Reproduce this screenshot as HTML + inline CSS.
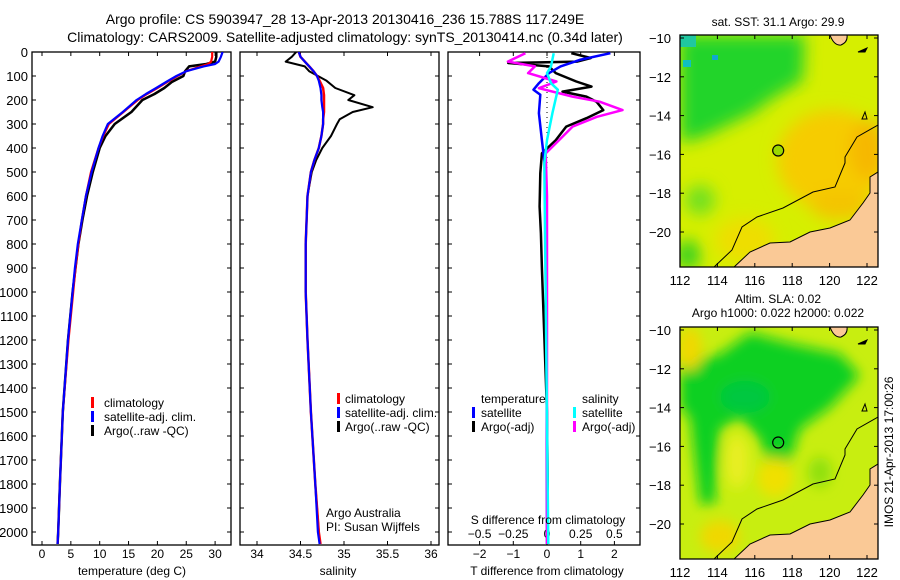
<!DOCTYPE html>
<html><head><meta charset="utf-8"><style>
html,body{margin:0;padding:0;background:#fff;}
svg{display:block;font-family:"Liberation Sans",sans-serif;}
text{fill:#000;}
</style></head><body>
<svg id="fig" width="900" height="580" viewBox="0 0 900 580">
<defs>
 <filter id="blur" x="-20%" y="-20%" width="140%" height="140%"><feGaussianBlur stdDeviation="8"/></filter>
 <filter id="blur2" x="-20%" y="-20%" width="140%" height="140%"><feGaussianBlur stdDeviation="6"/></filter>
 <clipPath id="mapclip"><rect x="680" y="35" width="198" height="232"/></clipPath>
 <clipPath id="p1clip"><rect x="32" y="52" width="199" height="493"/></clipPath>
 <clipPath id="p2clip"><rect x="240" y="52" width="199" height="493"/></clipPath>
 <clipPath id="p3clip"><rect x="448" y="52" width="192" height="493"/></clipPath>
</defs>
<text x="345" y="24" font-size="14" text-anchor="middle">Argo profile: CS 5903947_28 13-Apr-2013 20130416_236 15.788S 117.249E</text>
<text x="345" y="42" font-size="14" text-anchor="middle">Climatology: CARS2009. Satellite-adjusted climatology: synTS_20130414.nc (0.34d later)</text>

<g id="g1"></g>
<g id="g2"></g>
<g id="g3"></g>

<g font-size="12">
 <rect x="91" y="397" width="3" height="11" fill="#f00"/><text x="104" y="407">climatology</text>
 <rect x="91" y="411" width="3" height="11" fill="#00f"/><text x="104" y="421">satellite-adj. clim.</text>
 <rect x="91" y="425" width="3" height="11" fill="#000"/><text x="104" y="435">Argo(..raw -QC)</text>
</g>
<g font-size="12">
 <rect x="337" y="393" width="3" height="11" fill="#f00"/><text x="345" y="403">climatology</text>
 <rect x="337" y="407" width="3" height="11" fill="#00f"/><text x="345" y="417">satellite-adj. clim.</text>
 <rect x="337" y="421" width="3" height="11" fill="#000"/><text x="345" y="431">Argo(..raw -QC)</text>
 <text x="326" y="517">Argo Australia</text>
 <text x="326" y="531">PI: Susan Wijffels</text>
</g>
<g font-size="12">
 <text x="481" y="403">temperature</text>
 <rect x="472" y="407" width="3" height="11" fill="#00f"/><text x="481" y="417">satellite</text>
 <rect x="472" y="421" width="3" height="11" fill="#000"/><text x="481" y="431">Argo(-adj)</text>
 <text x="582" y="403">salinity</text>
 <rect x="573" y="407" width="3" height="11" fill="#0ff"/><text x="582" y="417">satellite</text>
 <rect x="573" y="421" width="3" height="11" fill="#f0f"/><text x="582" y="431">Argo(-adj)</text>
 <text x="548" y="524" text-anchor="middle">S difference from climatology</text>
</g>

<text x="132" y="575" font-size="12" text-anchor="middle">temperature (deg C)</text>
<text x="338" y="575" font-size="12" text-anchor="middle">salinity</text>
<text x="547" y="575" font-size="12" text-anchor="middle">T difference from climatology</text>

<g id="map1">
 <text x="778" y="26" font-size="12" text-anchor="middle">sat. SST: 31.1 Argo: 29.9</text>
 <g id="bg1" clip-path="url(#mapclip)">
  <rect x="680" y="35" width="198" height="232" fill="#d6ef00"/>
  <g filter="url(#blur)">
   <ellipse cx="832" cy="160" rx="55" ry="50" fill="#f6cc00"/>
   <ellipse cx="868" cy="150" rx="18" ry="30" fill="#f6b800"/>
   <ellipse cx="840" cy="205" rx="30" ry="15" fill="#f4c400"/>
   <ellipse cx="745" cy="240" rx="30" ry="22" fill="#eede00"/>
   <polygon points="680,35 805,35 803,80 770,100 753,113 703,137 680,143" fill="#22d42a"/>
   <ellipse cx="700" cy="200" rx="15" ry="15" fill="#70e020"/>
   <ellipse cx="688" cy="255" rx="12" ry="15" fill="#30d020"/>
  </g>
  <rect x="680" y="35" width="16" height="12" fill="#20c8a0"/>
  <rect x="683" y="60" width="8" height="7" fill="#10c0c0"/>
  <rect x="712" y="55" width="6" height="5" fill="#10a8d0"/>
 </g>
</g>
<g id="map2">
 <text x="778" y="303" font-size="12" text-anchor="middle">Altim. SLA: 0.02</text>
 <text x="778" y="317" font-size="12" text-anchor="middle">Argo h1000: 0.022 h2000: 0.022</text>
</g>
<text transform="translate(893,452) rotate(-90)" font-size="12" text-anchor="middle">IMOS 21-Apr-2013 17:00:26</text>
</svg>
<script>
// ---------- profile data ----------
const tDepth = [0,20,40,50,60,80,100,125,150,175,200,250,300,350,400,500,600,700,800,900,1000,1200,1500,1800,2000,2050];
const climT = [29.5,29.5,29.3,28.8,27.5,25.0,23.5,21.7,20.0,18.2,16.6,14.1,11.6,10.6,9.8,8.5,7.6,6.9,6.3,5.8,5.4,4.6,3.6,3.1,2.8,2.7];
const satT = [31.3,31.0,30.6,30.0,28.0,25.0,23.3,21.5,19.8,18.0,16.4,14.0,11.4,10.5,9.8,8.6,7.6,6.9,6.2,5.7,5.3,4.5,3.6,3.1,2.8,2.7];
const argoT = [30.2,30.2,30.0,28.5,25.5,24.8,24.5,22.5,21.2,19.5,17.4,15.5,12.6,11.0,10.0,8.8,7.8,7.0,6.3,5.8,5.3,4.5,3.6,3.1,2.8,2.7];

const sDepth = [0,20,40,60,80,100,120,150,180,200,230,250,280,300,350,400,450,500,600,800,1000,1200,1500,1800,2000,2050];
const climS = [34.48,34.5,34.55,34.6,34.65,34.69,34.72,34.76,34.77,34.77,34.77,34.77,34.76,34.76,34.74,34.71,34.66,34.62,34.58,34.56,34.56,34.58,34.62,34.67,34.71,34.73];
const satS = [34.48,34.5,34.55,34.6,34.65,34.69,34.71,34.73,34.74,34.74,34.75,34.76,34.76,34.76,34.74,34.71,34.66,34.62,34.58,34.56,34.56,34.58,34.62,34.67,34.70,34.72];
const argoS = [34.45,34.4,34.33,34.55,34.6,34.7,34.8,34.9,35.12,35.05,35.33,35.1,34.95,34.92,34.85,34.75,34.68,34.63,34.58,34.56,34.56,34.58,34.62,34.67,34.71,34.72];

const argoTdiffDepth = [5,25,40,46,60,88,123,144,165,186,207,242,276,311,367,422,505,644,755,900,1100,1300,1500,1800,2050];
const argoTdiff = [0.72,1.3,0.9,-1.15,0.06,0.26,0.87,1.32,0.46,1.17,1.47,1.67,1.17,0.57,0.26,-0.15,-0.2,-0.22,-0.18,-0.15,-0.1,-0.05,0,0.02,0.02];
const satTdiffDepth = [5,33,60,88,130,157,178,255,367,464,600,2050];
const satTdiff = [1.88,0.97,0.4,0.06,-0.24,-0.4,-0.2,-0.24,-0.15,-0.07,-0.02,0];
const argoSdiffDepth = [5,40,60,88,123,151,186,207,242,270,311,367,422,600,1000,2050];
const argoSdiff = [-0.16,-0.29,-0.09,-0.14,0.07,-0.06,0.19,0.39,0.56,0.37,0.19,0.09,-0.01,0,0,0];
const satSdiffDepth = [5,60,88,130,157,255,367,464,2050];
const satSdiff = [0.05,0.03,0,0.03,0.08,0.04,0,-0.02,0.01];

const depthTicks = [0,100,200,300,400,500,600,700,800,900,1000,1100,1200,1300,1400,1500,1600,1700,1800,1900,2000];
const tTicks = [0,5,10,15,20,25,30];
const sTicks = [34,34.5,35,35.5,36];
const dTTicks = [-2,-1,0,1,2];
const dSTicks = [-0.5,-0.25,0,0.25,0.5];
const latTicks = [-10,-12,-14,-16,-18,-20];
const lonTicks = [112,114,116,118,120,122];
const argoLon = 117.25, argoLat = -15.8;

const NS = 'http://www.w3.org/2000/svg';
const yD = d => 52 + d * 0.24;
const xT = t => 42 + t * 5.77;
const xS = s => 257 + (s - 34) * 87;
const xDT = v => 547 + v * 33.7;
const xDS = v => 547 + v * 134.8;
const mx = lon => 680 + (lon - 112) * 18.7;
const my = lat => 38 + (-10 - lat) * 19.4;

function mk(tag, attrs, parent) {
  const e = document.createElementNS(NS, tag);
  for (const k in attrs) e.setAttribute(k, attrs[k]);
  parent.appendChild(e);
  return e;
}
function txt(parent, x, y, s, anchor, size) {
  const t = mk('text', {x: x, y: y, 'font-size': size || 12, 'text-anchor': anchor || 'middle'}, parent);
  t.textContent = s;
  return t;
}
function frame(g, x0, x1, name) {
  const r = mk('rect', {x: x0, y: 52, width: x1 - x0, height: 493, fill: 'none', stroke: '#000', 'stroke-width': 1.3}, g);
  
  
  depthTicks.forEach(d => {
    mk('line', {x1: x0, x2: x0 + 4, y1: yD(d), y2: yD(d), stroke: '#000'}, g);
    mk('line', {x1: x1, x2: x1 - 4, y1: yD(d), y2: yD(d), stroke: '#000'}, g);
  });
}
function xticks(g, ticks, fx, labelY) {
  ticks.forEach(v => {
    mk('line', {x1: fx(v), x2: fx(v), y1: 52, y2: 56, stroke: '#000'}, g);
    mk('line', {x1: fx(v), x2: fx(v), y1: 545, y2: 541, stroke: '#000'}, g);
    const t = txt(g, fx(v), labelY, String(v));
    
    
  });
}
function series(g, xs, ds, fx, color, name, clip, w) {
  const pts = xs.map((v, i) => fx(v).toFixed(1) + ',' + yD(ds[i]).toFixed(1)).join(' ');
  const p = mk('polyline', {points: pts, fill: 'none', stroke: color, 'stroke-width': w || 2.5, 'clip-path': 'url(#' + clip + ')', 'stroke-linejoin': 'round'}, g);
  
  
}

const g1 = document.getElementById('g1');
frame(g1, 32, 231, 'temperature-panel');
xticks(g1, tTicks, xT, 558);
depthTicks.forEach(d => {
  const t = txt(g1, 28, yD(d) + 5, String(d), 'end', 13);
  
  
});
series(g1, argoT, tDepth, xT, '#000', 'argo-temperature-line', 'p1clip', 2.5);
series(g1, climT, tDepth, xT, '#f00', 'climatology-temperature-line', 'p1clip', 2.2);
series(g1, satT, tDepth, xT, '#00f', 'satellite-temperature-line', 'p1clip', 2.2);

const g2 = document.getElementById('g2');
frame(g2, 240, 439, 'salinity-panel');
xticks(g2, sTicks, xS, 558);
series(g2, argoS, sDepth, xS, '#000', 'argo-salinity-line', 'p2clip', 2);
series(g2, climS, sDepth, xS, '#f00', 'climatology-salinity-line', 'p2clip', 2.5);
series(g2, satS, sDepth, xS, '#00f', 'satellite-salinity-line', 'p2clip', 2.2);

const g3 = document.getElementById('g3');
frame(g3, 448, 640, 'difference-panel');
dTTicks.forEach(v => {
  mk('line', {x1: xDT(v), x2: xDT(v), y1: 545, y2: 541, stroke: '#000'}, g3);
  const t = txt(g3, xDT(v), 558, v < 0 ? '\u2212' + Math.abs(v) : String(v));
  
  
});
dSTicks.forEach(v => {
  mk('line', {x1: xDS(v), x2: xDS(v), y1: 52, y2: 56, stroke: '#000'}, g3);
  const t = txt(g3, xDS(v), 538, v < 0 ? '\u2212' + Math.abs(v) : String(v));
  
  
});
const zl = mk('line', {x1: xDT(0), x2: xDT(0), y1: 52, y2: 545, stroke: '#000', 'stroke-dasharray': '1,4'}, g3);


series(g3, argoTdiff, argoTdiffDepth, xDT, '#000', 'argo-t-diff-line', 'p3clip', 2.5);
series(g3, satTdiff, satTdiffDepth, xDT, '#00f', 'satellite-t-diff-line', 'p3clip', 2.5);
series(g3, argoSdiff, argoSdiffDepth, xDS, '#f0f', 'argo-s-diff-line', 'p3clip', 2.5);
series(g3, satSdiff, satSdiffDepth, xDS, '#0ff', 'satellite-s-diff-line', 'p3clip', 2.5);

// ---------- maps ----------
const map1 = document.getElementById('map1');
const bg1 = document.getElementById('bg1');
const map2 = document.getElementById('map2');
const outer2 = mk('g', {transform: 'translate(0,292)'}, map2);
const bg2 = mk('g', {'clip-path': 'url(#mapclip)'}, outer2);
mk('rect', {x: 680, y: 35, width: 198, height: 232, fill: '#c8ee10'}, bg2);
const bl = mk('g', {filter: 'url(#blur2)', transform: 'matrix(1,0,0,1.074,0,-2.5)'}, bg2);
mk('polygon', {points: '680,70 720,60 750,40 790,50 840,60 860,80 830,110 800,130 790,160 770,170 760,140 740,120 720,130 715,200 700,200 690,120 680,110', fill: '#10d020'}, bl);
mk('ellipse', {cx: 745, cy: 100, rx: 25, ry: 15, fill: '#00c840'}, bl);
mk('ellipse', {cx: 775, cy: 175, rx: 18, ry: 18, fill: '#f0e000'}, bl);
mk('ellipse', {cx: 690, cy: 55, rx: 12, ry: 20, fill: '#f0d800'}, bl);
mk('ellipse', {cx: 720, cy: 230, rx: 20, ry: 15, fill: '#f0d800'}, bl);
mk('ellipse', {cx: 737, cy: 160, rx: 12, ry: 25, fill: '#e8ee20'}, bl);
mk('ellipse', {cx: 820, cy: 170, rx: 12, ry: 14, fill: '#90e010'}, bl);

[[map1, bg1, 0], [outer2, bg2, 1]].forEach(([m, c, idx]) => {
  const land = mk('polygon', {points: '733,268 750,252 770,243 790,242 810,232 830,228 850,220 863,203 870,193 870,177 878,172 878,268', fill: '#fac996', stroke: '#000', 'stroke-width': 1}, c);
  
  
  mk('path', {d: 'M830,35 Q834,46 841,45 Q848,42 847,35 Z', fill: '#fac996', stroke: '#000'}, c);
  mk('path', {d: 'M858,52 l9,-4 l-2,4 Z', fill: '#000', stroke: '#000'}, c);
  mk('path', {d: 'M862,119 l3,-7 l2,7 Z', fill: 'none', stroke: '#000'}, c);
  mk('polyline', {points: '713,268 732,250 742,227 757,217 783,208 813,192 835,187 845,163 845,157 857,137 878,125', fill: 'none', stroke: '#000', 'stroke-width': 1}, c);
  const bx = mk('rect', {x: 680, y: 35, width: 198, height: 232, fill: 'none', stroke: '#000', 'stroke-width': 1.3}, m);
  
  
  const dot = mk('circle', {cx: mx(argoLon), cy: my(argoLat), r: 5.5, fill: idx === 0 ? '#9ad800' : 'none', stroke: '#000', 'stroke-width': 1.2}, m);
  
  
  latTicks.forEach(l => {
    mk('line', {x1: 680, x2: 684, y1: my(l), y2: my(l), stroke: '#000'}, m);
    mk('line', {x1: 878, x2: 874, y1: my(l), y2: my(l), stroke: '#000'}, m);
    const t = txt(m, 671, my(l) + 5, '\u2212' + Math.abs(l), 'end', 13);
    
    
  });
  lonTicks.forEach(l => {
    mk('line', {x1: mx(l), x2: mx(l), y1: 35, y2: 39, stroke: '#000'}, m);
    mk('line', {x1: mx(l), x2: mx(l), y1: 267, y2: 263, stroke: '#000'}, m);
    const t = txt(m, mx(l), 285, String(l), 'middle', 13);
    
    
  });
});
</script>
</body></html>
